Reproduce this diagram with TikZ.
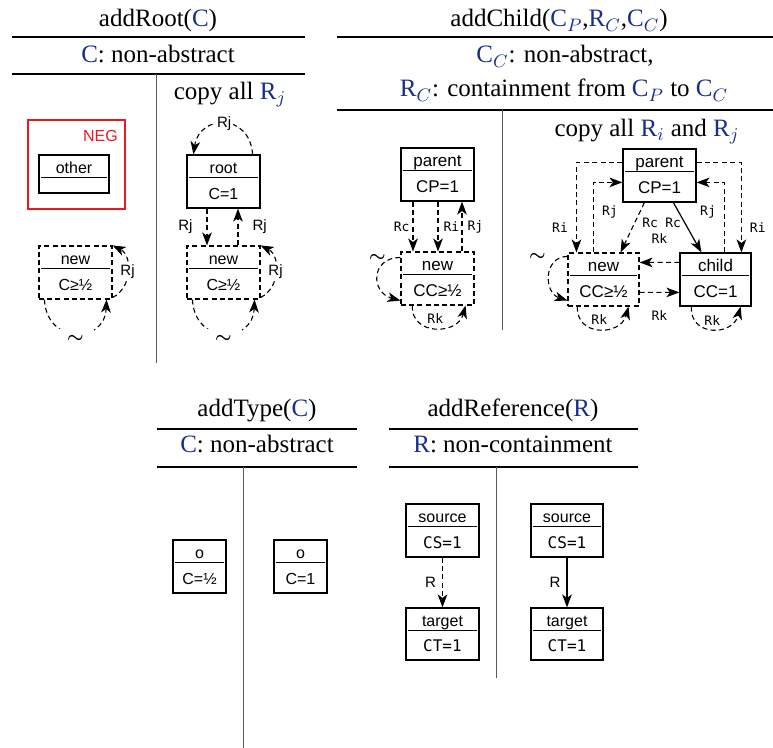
\documentclass[tikz,border=0pt]{standalone}
\usepackage{fontspec}
\usepackage{bm}
\setmainfont{Liberation Serif}
\newfontfamily\boxfont{Liberation Sans}
\newfontfamily\monofont{DejaVu Sans Mono}
\usetikzlibrary{arrows.meta,calc}
\definecolor{cblue}{RGB}{25,45,140}
\definecolor{negred}{RGB}{235,25,30}
\newcommand\objbox[8]{%
  \node[#8, minimum width={(#4-#2)*0.5pt}, minimum height={(#5-#3)*0.5pt}] (#1) at ({(#2+#4)/2},{(#3+#5)/2}) {};
  \draw[divider] ($(#1.north west)+(3,23)$) -- ($(#1.north east)+(-3,23)$);
  \node[boxtext] (#1-t) at ($(#1.north)+(0,19)$) {#6};
  \node[boxtext] (#1-b) at ($(#1.south)+(0,-9)$) {#7};
}
\begin{document}
\begin{tikzpicture}[x=0.5pt,y=-0.5pt,
  btfont/.style={font=\boxfont\fontsize{8}{9}\selectfont},
  box/.style={draw, line width=0.6pt, inner sep=0pt, fill=white},
  dbox/.style={box, line width=0.55pt, dash pattern=on 2.5pt off 1.6pt},
  divider/.style={line width=0.6pt},
  boxtext/.style={btfont, inner sep=0pt, anchor=base},
  conn/.style={line width=0.6pt, -{Stealth[length=6.5pt,width=4.8pt,inset=1.8pt]}},
  dconn/.style={conn, line width=0.55pt, dash pattern=on 2.5pt off 1.7pt},
  rule/.style={line width=0.6pt},
  vrule/.style={line width=0.5pt, draw=black!65},
  ttl/.style={font=\fontsize{12.5}{14}\selectfont, anchor=base, inner sep=0pt},
  mlab/.style={font=\monofont\fontsize{6.5}{7}\selectfont, inner sep=1pt},
  slab/.style={font=\boxfont\fontsize{7.5}{8}\selectfont, inner sep=1pt},
  tilde/.style={font=\fontsize{9.5}{10}\selectfont, inner sep=0pt},
  negbox/.style={draw=negred, line width=1.1pt, inner sep=0pt},
  negtext/.style={font=\boxfont\fontsize{8}{9}\selectfont, text=negred, anchor=base east, inner sep=0pt}]
\useasboundingbox (0,0) rectangle (773,748);

% ---------------- addRoot ----------------
\node[ttl] (t1) at (158,27) {addRoot(\textcolor{cblue}{C})};
\node[ttl] (t1c) at (158,63) {\textcolor{cblue}{C}: non-abstract};
\draw[rule] (12,37) -- (305,37);
\draw[rule] (12,74) -- (305,74);
\draw[vrule] (156,74) -- (156,363);
\node[ttl] (t1r) at (230,100) {copy all \textcolor{cblue}{R$_j$}};

\node[negbox, minimum width=48.5pt, minimum height=44.5pt] (neg) at (76.5,164.5) {};
\node[negtext] (negl) at ($(neg.north east)+(-8,23)$) {NEG};
\objbox{other}{39}{155}{109}{193}{other}{}{box}

\objbox{newA}{39}{246}{112}{299}{new}{C≥½}{dbox}
\draw[dconn] ($(newA.south east)+(0,-2)$) .. controls +(20,-10) and +(20,10) .. (newA.north east)
  node[slab, pos=0.5, fill=white] (lA1) {Rj};
\draw[dconn] ($(newA.south west)+(6,0)$) .. controls +(2,45) and +(-2,45) .. ($(newA.south east)+(-6,0)$)
  node[tilde, pos=0.5, fill=white, minimum width=18pt, minimum height=10pt, yshift=-3pt] (lA2) {$\bm{\sim}$};

\objbox{root}{187}{155}{260}{208}{root}{C=1}{box}
\objbox{newB}{187}{246}{260}{299}{new}{C≥½}{dbox}
\draw[dconn] ($(root.north east)+(-8,0)$) .. controls +(-3,-42) and +(6,-40) .. ($(root.north west)+(7,0)$)
  node[slab, pos=0.5, fill=white] (lB1) {Rj};
\draw[dconn] ($(root.south)+(-16.5,0)$) -- ($(newB.north)+(-16.5,0)$) node[slab, midway, left=6pt] (lB2) {Rj};
\draw[dconn] ($(newB.north)+(14.5,0)$) -- ($(root.south)+(14.5,0)$) node[slab, midway, right=6pt] (lB3) {Rj};
\draw[dconn] ($(newB.south east)+(0,-2)$) .. controls +(20,-10) and +(20,10) .. (newB.north east)
  node[slab, pos=0.5, fill=white] (lB4) {Rj};
\draw[dconn] ($(newB.south west)+(6,0)$) .. controls +(2,45) and +(-2,45) .. ($(newB.south east)+(-6,0)$)
  node[tilde, pos=0.5, fill=white, minimum width=18pt, minimum height=10pt, yshift=-3pt] (lB5) {$\bm{\sim}$};

% ---------------- addChild ----------------
\node[ttl] (t2) at (559,27) {addChild(\textcolor{cblue}{C$_P$},\textcolor{cblue}{R$_C$},\textcolor{cblue}{C$_C$})};
\node[ttl] (t2c) at (565,63) {\textcolor{cblue}{C$_C$}: non-abstract,};
\node[ttl] (t2d) at (564,97) {\textcolor{cblue}{R$_C$}: containment from \textcolor{cblue}{C$_P$} to \textcolor{cblue}{C$_C$}};
\draw[rule] (337,37) -- (773,37);
\draw[rule] (337,110) -- (773,110);
\draw[vrule] (502,110) -- (502,330);
\node[ttl] (t2r) at (647,137) {copy all \textcolor{cblue}{R$_i$} and \textcolor{cblue}{R$_j$}};

\begin{scope}[btfont/.style={font=\boxfont\fontsize{8.5}{9}\selectfont}]
\objbox{parA}{401}{148}{474}{201}{parent}{CP=1}{box}
\objbox{newC}{401}{252}{474}{305}{new}{CC≥½}{dbox}
\draw[dconn] ($(parA.south)+(-24.5,0)$) -- ($(newC.north)+(-24.5,0)$) node[mlab, midway, left=0.5pt] (lC1) {Rc};
\draw[dconn] ($(parA.south)+(0.5,0)$) -- ($(newC.north)+(0.5,0)$) node[mlab, midway, right=1.5pt] (lC2) {Ri};
\draw[dconn] ($(newC.north)+(24.5,0)$) -- ($(parA.south)+(24.5,0)$) node[mlab, midway, right=1.5pt] (lC3) {Rj};
\draw[dconn] ($(newC.north west)+(0,6)$) .. controls +(-30,0) and +(-30,-8) .. ($(newC.south west)+(0,-5)$)
  node[tilde, pos=0, xshift=-11.5pt] (lC4) {$\bm{\sim}$};
\draw[dconn] ($(newC.south west)+(12,0)$) .. controls +(-2,30) and +(-8,30) .. ($(newC.south east)+(-9,0)$)
  node[mlab, pos=0.5, yshift=4.5pt] (lC5) {Rk};

\objbox{parB}{623}{149}{696}{202}{parent}{CP=1}{box}
\objbox{newD}{568}{253}{639}{306}{new}{CC≥½}{dbox}
\objbox{child}{680}{253}{751}{306}{child}{CC=1}{box}
\draw[dconn] ($(parB.north west)+(0,14)$) -| ($(newD.north west)+(9,0)$) node[mlab, pos=0.86, left=3pt] (lD1) {Ri};
\draw[dconn] ($(newD.north west)+(26,0)$) |- ($(parB.north west)+(0,34)$) node[mlab, pos=0.29, right=3pt] (lD2) {Rj};
\draw[dconn] ($(parB.north east)+(0,14)$) -| ($(child.north west)+(62,0)$) node[mlab, pos=0.86, right=3pt] (lD3) {Ri};
\draw[dconn] ($(child.north west)+(45,0)$) |- ($(parB.north east)+(0,34)$) node[mlab, pos=0.29, left=3pt] (lD4) {Rj};
\draw[dconn] ($(parB.south west)+(22,0)$) -- ($(newD.north east)+(-19,0)$) node[mlab, pos=0.4, right=2.5pt] (lD5) {Rc};
\draw[conn] ($(parB.south west)+(51,0)$) -- ($(child.north west)+(22,0)$) node[mlab, pos=0.4, left=0.5pt] (lD6) {Rc};
\draw[dconn] ($(child.north west)+(0,10)$) -- ($(newD.north east)+(0,10)$) node[mlab, midway, above=8pt] (lD7) {Rk};
\draw[dconn] ($(newD.north east)+(0,40)$) -- ($(child.north west)+(0,40)$) node[mlab, midway, below=8pt] (lD8) {Rk};
\draw[dconn] ($(newD.north west)+(0,4)$) .. controls +(-24,0) and +(-24,-8) .. ($(newD.south west)+(0,-6)$)
  node[tilde, pos=0, xshift=-15pt] (lD9) {$\bm{\sim}$};
\draw[dconn] ($(newD.south west)+(10,0)$) .. controls +(-2,30) and +(-8,30) .. ($(newD.south east)+(-11,0)$)
  node[mlab, pos=0.5, yshift=4.5pt] (lD10) {Rk};
\draw[dconn] ($(child.south west)+(12,0)$) .. controls +(-2,30) and +(-8,30) .. ($(child.south east)+(-11,0)$)
  node[mlab, pos=0.5, yshift=4.5pt] (lD11) {Rk};
\end{scope}

% ---------------- addType ----------------
\node[ttl] (t3) at (257,417) {addType(\textcolor{cblue}{C})};
\node[ttl] (t3c) at (257,453) {\textcolor{cblue}{C}: non-abstract};
\draw[rule] (157,429) -- (357,429);
\draw[rule] (157,467) -- (357,467);
\draw[vrule] (243,467) -- (243,748);
\objbox{oL}{173}{540}{226}{593}{o}{C=½}{box}
\objbox{oR}{274}{540}{327}{593}{o}{C=1}{box}

% ---------------- addReference ----------------
\node[ttl] (t4) at (513,417) {addReference(\textcolor{cblue}{R})};
\node[ttl] (t4c) at (513,453) {\textcolor{cblue}{R}: non-containment};
\draw[rule] (389,429) -- (638,429);
\draw[rule] (389,467) -- (638,467);
\draw[vrule] (496,467) -- (496,678);
\objbox{srcL}{406}{504}{479}{557}{source}{{\monofont CS=1}}{box}
\objbox{tgtL}{406}{608}{479}{660}{target}{{\monofont CT=1}}{box}
\draw[dconn] (srcL.south) -- (tgtL.north) node[slab, midway, left=2pt] (lE1) {R};
\objbox{srcR}{531}{504}{603}{557}{source}{{\monofont CS=1}}{box}
\objbox{tgtR}{531}{608}{603}{660}{target}{{\monofont CT=1}}{box}
\draw[conn] (srcR.south) -- (tgtR.north) node[slab, midway, left=2pt] (lE2) {R};
\end{tikzpicture}
\end{document}
